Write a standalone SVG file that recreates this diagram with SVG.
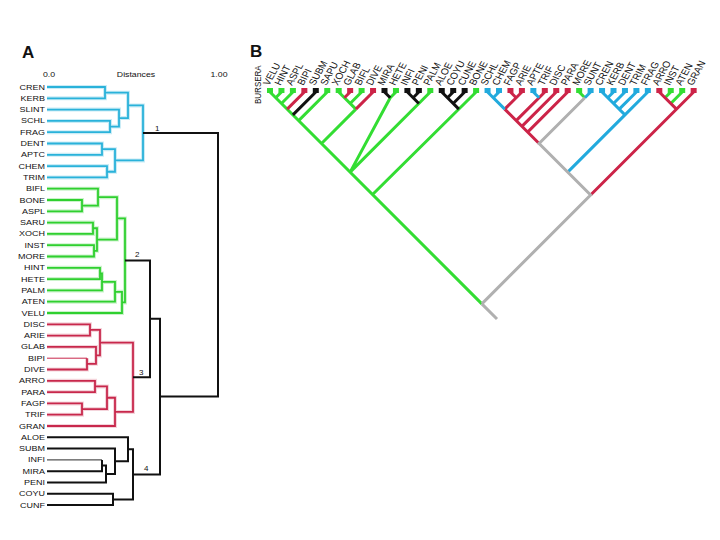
<svg xmlns="http://www.w3.org/2000/svg" xmlns:xlink="http://www.w3.org/1999/xlink" width="720" height="540" viewBox="0 0 720 540">
<style>
text{font-family:"Liberation Sans",Arial,sans-serif;fill:#111}
.la{font-size:7.2px;text-anchor:end}
.lb{font-size:9px}
.hd{font-size:7px;text-anchor:middle}
.num{font-size:8px}
.big{font-size:17px;font-weight:bold}
.p{fill:none;stroke-linejoin:miter;stroke-linecap:butt}
</style>
<defs>
<g id="aCy" stroke="#2ab2da"><path class="p" d="M47,87H105V98.3H47M47,120.9H110V132.2H47M47,109.6H119V126.55H110M105,92.65H128V118.1H119M47,143.5H102V154.8H47M47,166.1H107V177.4H47M102,149.15H115V171.75H107M128,105.4H143V160.45H115"/></g>
<g id="aGr" stroke="#2fd02f"><path class="p" d="M47,200H82V211.3H47M47,188.7H98V205.65H82M47,222.6H93V233.9H47M47,245.2H94V256.5H47M93,228.25H97V250.85H94M98,197.2H117V239.55H97M47,267.8H100V279.1H47M100,273.45H102V290.4H47M102,281.9H115V301.7H47M115,291.8H122V313H47M117,218.4H125V302.4H122"/></g>
<g id="aRd" stroke="#c8284c"><path class="p" d="M47,324.3H90V335.6H47M87,358.2V369.5H47M47,346.9H96V363.85H87M90,329.95H100V355.4H96M47,380.8H95V392.1H47M47,403.4H82V414.7H47M95,386.45H107V409.05H82M107,397.75H115V426H47M100,342.7H133V411.9H115"/></g>
</defs>
<rect width="720" height="540" fill="#fff"/>
<text class="big" x="22" y="58">A</text>
<text class="big" x="250" y="57">B</text>
<text class="hd" transform="translate(49,77) scale(1.25,1)">0.0</text>
<text class="hd" transform="translate(136,77) scale(1.25,1)">Distances</text>
<text class="hd" transform="translate(219,77) scale(1.25,1)">1.00</text>
<g id="connectors">
<g id="connA">
<use xlink:href="#aCy" stroke-width="4" opacity="0.25"/>
<use xlink:href="#aGr" stroke-width="4" opacity="0.25"/>
<use xlink:href="#aRd" stroke-width="4" opacity="0.2"/>
<use xlink:href="#aCy" stroke-width="1.8"/>
<use xlink:href="#aGr" stroke-width="1.8"/>
<use xlink:href="#aRd" stroke-width="1.8"/>
<path class="p" stroke="#c8284c" stroke-width="1" d="M47,358.2H87"/>
<path class="p" stroke="#111" stroke-width="2" d="M143,132.9H218V396.6H160M125,260.4H150V377.3H133M150,318.85H160V474.4H133M102,459.9V471.2H47M102,465.55H106V482.5H47M47,448.6H115V474H106M47,437.3H128V461.3H115M47,493.8H113V505.1H47M128,449.3H133V499.45H113"/>
<path class="p" stroke="#111" stroke-width="0.9" d="M47,459.9H102"/>
</g>
<g id="connB" stroke-width="3" stroke-linecap="round">
<path class="p" stroke="#33dd33" d="M270,92L481.83,303.83M281.45,92L275.73,97.73M292.9,92L281.45,103.45M327.25,92L298.63,120.63M338.7,92L355.88,109.18M361.6,92L350.15,103.45M355.88,109.18L321.53,143.53M395.95,92L390.23,97.73M390.23,97.73L350.15,172.15M430.3,92L350.15,172.15M476.1,92L373.05,194.05M670.75,92L665.03,97.73M682.2,92L670.75,103.45M579.15,92L584.88,97.73"/>
<path class="p" stroke="#cc2448" d="M304.35,92L287.18,109.18M350.15,92L344.43,97.73M373.05,92L355.88,109.18M693.65,92L590.6,195.05M659.3,92L676.48,109.18M510.45,92L516.18,97.73M521.9,92L516.18,97.73M516.18,97.73L504.73,109.18M544.8,92L539.08,97.73M539.08,97.73L516.18,120.63M556.25,92L521.9,126.35M567.7,92L527.63,132.08M504.73,109.18L539.08,143.53"/>
<path class="p" stroke="#111" d="M315.8,92L292.9,114.9M384.5,92L390.23,97.73M407.4,92L418.85,103.45M418.85,92L413.13,97.73M441.75,92L458.88,109.18M453.2,92L447.48,97.73M464.65,92L453.2,103.45"/>
<path class="p" stroke="#22aadd" d="M487.55,92L504.73,109.18M499,92L493.28,97.73M533.35,92L539.08,97.73M590.6,92L584.88,97.73M602.05,92L624.95,114.9M613.5,92L607.78,97.73M624.95,92L613.5,103.45M636.4,92L619.23,109.18M647.85,92L624.95,114.9M624.95,114.9L567.7,172.15"/>
<path class="p" stroke="#b0b0b0" d="M481.83,303.83L497,319M481.83,303.83L590.6,195.05L539.08,143.53L584.88,97.73"/>
</g>
</g>
<g id="clusterLabels">
<text class="num" x="155" y="131">1</text>
<text class="num" x="135" y="257">2</text>
<text class="num" x="139" y="375">3</text>
<text class="num" x="144" y="471">4</text>
</g>
<g id="leavesA" transform="translate(45,0) scale(1.25,1)">
<g id="a-CREN"><text class="la" y="89.6">CREN</text></g>
<g id="a-KERB"><text class="la" y="100.9">KERB</text></g>
<g id="a-SLINT"><text class="la" y="112.2">SLINT</text></g>
<g id="a-SCHL"><text class="la" y="123.5">SCHL</text></g>
<g id="a-FRAG"><text class="la" y="134.8">FRAG</text></g>
<g id="a-DENT"><text class="la" y="146.1">DENT</text></g>
<g id="a-APTC"><text class="la" y="157.4">APTC</text></g>
<g id="a-CHEM"><text class="la" y="168.7">CHEM</text></g>
<g id="a-TRIM"><text class="la" y="180">TRIM</text></g>
<g id="a-BIFL"><text class="la" y="191.3">BIFL</text></g>
<g id="a-BONE"><text class="la" y="202.6">BONE</text></g>
<g id="a-ASPL"><text class="la" y="213.9">ASPL</text></g>
<g id="a-SARU"><text class="la" y="225.2">SARU</text></g>
<g id="a-XOCH"><text class="la" y="236.5">XOCH</text></g>
<g id="a-INST"><text class="la" y="247.8">INST</text></g>
<g id="a-MORE"><text class="la" y="259.1">MORE</text></g>
<g id="a-HINT"><text class="la" y="270.4">HINT</text></g>
<g id="a-HETE"><text class="la" y="281.7">HETE</text></g>
<g id="a-PALM"><text class="la" y="293">PALM</text></g>
<g id="a-ATEN"><text class="la" y="304.3">ATEN</text></g>
<g id="a-VELU"><text class="la" y="315.6">VELU</text></g>
<g id="a-DISC"><text class="la" y="326.9">DISC</text></g>
<g id="a-ARIE"><text class="la" y="338.2">ARIE</text></g>
<g id="a-GLAB"><text class="la" y="349.5">GLAB</text></g>
<g id="a-BIPI"><text class="la" y="360.8">BIPI</text></g>
<g id="a-DIVE"><text class="la" y="372.1">DIVE</text></g>
<g id="a-ARRO"><text class="la" y="383.4">ARRO</text></g>
<g id="a-PARA"><text class="la" y="394.7">PARA</text></g>
<g id="a-FAGP"><text class="la" y="406">FAGP</text></g>
<g id="a-TRIF"><text class="la" y="417.3">TRIF</text></g>
<g id="a-GRAN"><text class="la" y="428.6">GRAN</text></g>
<g id="a-ALOE"><text class="la" y="439.9">ALOE</text></g>
<g id="a-SUBM"><text class="la" y="451.2">SUBM</text></g>
<g id="a-INFI"><text class="la" y="462.5">INFI</text></g>
<g id="a-MIRA"><text class="la" y="473.8">MIRA</text></g>
<g id="a-PENI"><text class="la" y="485.1">PENI</text></g>
<g id="a-COYU"><text class="la" y="496.4">COYU</text></g>
<g id="a-CUNF"><text class="la" y="507.7">CUNF</text></g>
</g>
<g id="leavesB">
<g id="b-BURSERA"><text class="lb" style="font-size:8px" transform="translate(261,104) scale(1.2,1) rotate(-90)">BURSERA</text></g>
<g id="b-VELU"><rect x="267" y="88" width="6" height="5" fill="#33dd33"/><text class="lb" transform="translate(269,86) scale(1.15,1) rotate(-64)">VELU</text></g>
<g id="b-HINT"><rect x="278.45" y="88" width="6" height="5" fill="#33dd33"/><text class="lb" transform="translate(280.45,86) scale(1.15,1) rotate(-64)">HINT</text></g>
<g id="b-ASPL"><rect x="289.9" y="88" width="6" height="5" fill="#33dd33"/><text class="lb" transform="translate(291.9,86) scale(1.15,1) rotate(-64)">ASPL</text></g>
<g id="b-BIPI"><rect x="301.35" y="88" width="6" height="5" fill="#cc2448"/><text class="lb" transform="translate(303.35,86) scale(1.15,1) rotate(-64)">BIPI</text></g>
<g id="b-SUBM"><rect x="312.8" y="88" width="6" height="5" fill="#111"/><text class="lb" transform="translate(314.8,86) scale(1.15,1) rotate(-64)">SUBM</text></g>
<g id="b-SAPU"><rect x="324.25" y="88" width="6" height="5" fill="#33dd33"/><text class="lb" transform="translate(326.25,86) scale(1.15,1) rotate(-64)">SAPU</text></g>
<g id="b-XOCH"><rect x="335.7" y="88" width="6" height="5" fill="#33dd33"/><text class="lb" transform="translate(337.7,86) scale(1.15,1) rotate(-64)">XOCH</text></g>
<g id="b-GLAB"><rect x="347.15" y="88" width="6" height="5" fill="#cc2448"/><text class="lb" transform="translate(349.15,86) scale(1.15,1) rotate(-64)">GLAB</text></g>
<g id="b-BIFL"><rect x="358.6" y="88" width="6" height="5" fill="#33dd33"/><text class="lb" transform="translate(360.6,86) scale(1.15,1) rotate(-64)">BIFL</text></g>
<g id="b-DIVE"><rect x="370.05" y="88" width="6" height="5" fill="#cc2448"/><text class="lb" transform="translate(372.05,86) scale(1.15,1) rotate(-64)">DIVE</text></g>
<g id="b-MIRA"><rect x="381.5" y="88" width="6" height="5" fill="#111"/><text class="lb" transform="translate(383.5,86) scale(1.15,1) rotate(-64)">MIRA</text></g>
<g id="b-HETE"><rect x="392.95" y="88" width="6" height="5" fill="#33dd33"/><text class="lb" transform="translate(394.95,86) scale(1.15,1) rotate(-64)">HETE</text></g>
<g id="b-INFI"><rect x="404.4" y="88" width="6" height="5" fill="#111"/><text class="lb" transform="translate(406.4,86) scale(1.15,1) rotate(-64)">INFI</text></g>
<g id="b-PENI"><rect x="415.85" y="88" width="6" height="5" fill="#111"/><text class="lb" transform="translate(417.85,86) scale(1.15,1) rotate(-64)">PENI</text></g>
<g id="b-PALM"><rect x="427.3" y="88" width="6" height="5" fill="#33dd33"/><text class="lb" transform="translate(429.3,86) scale(1.15,1) rotate(-64)">PALM</text></g>
<g id="b-ALOE"><rect x="438.75" y="88" width="6" height="5" fill="#111"/><text class="lb" transform="translate(440.75,86) scale(1.15,1) rotate(-64)">ALOE</text></g>
<g id="b-COYU"><rect x="450.2" y="88" width="6" height="5" fill="#111"/><text class="lb" transform="translate(452.2,86) scale(1.15,1) rotate(-64)">COYU</text></g>
<g id="b-CUNE"><rect x="461.65" y="88" width="6" height="5" fill="#111"/><text class="lb" transform="translate(463.65,86) scale(1.15,1) rotate(-64)">CUNE</text></g>
<g id="b-BONE"><rect x="473.1" y="88" width="6" height="5" fill="#33dd33"/><text class="lb" transform="translate(475.1,86) scale(1.15,1) rotate(-64)">BONE</text></g>
<g id="b-SCHL"><rect x="484.55" y="88" width="6" height="5" fill="#22aadd"/><text class="lb" transform="translate(486.55,86) scale(1.15,1) rotate(-64)">SCHL</text></g>
<g id="b-CHEM"><rect x="496" y="88" width="6" height="5" fill="#22aadd"/><text class="lb" transform="translate(498,86) scale(1.15,1) rotate(-64)">CHEM</text></g>
<g id="b-FAGP"><rect x="507.45" y="88" width="6" height="5" fill="#cc2448"/><text class="lb" transform="translate(509.45,86) scale(1.15,1) rotate(-64)">FAGP</text></g>
<g id="b-ARIE"><rect x="518.9" y="88" width="6" height="5" fill="#cc2448"/><text class="lb" transform="translate(520.9,86) scale(1.15,1) rotate(-64)">ARIE</text></g>
<g id="b-APTE"><rect x="530.35" y="88" width="6" height="5" fill="#22aadd"/><text class="lb" transform="translate(532.35,86) scale(1.15,1) rotate(-64)">APTE</text></g>
<g id="b-TRIF"><rect x="541.8" y="88" width="6" height="5" fill="#cc2448"/><text class="lb" transform="translate(543.8,86) scale(1.15,1) rotate(-64)">TRIF</text></g>
<g id="b-DISC"><rect x="553.25" y="88" width="6" height="5" fill="#cc2448"/><text class="lb" transform="translate(555.25,86) scale(1.15,1) rotate(-64)">DISC</text></g>
<g id="b-PARA"><rect x="564.7" y="88" width="6" height="5" fill="#cc2448"/><text class="lb" transform="translate(566.7,86) scale(1.15,1) rotate(-64)">PARA</text></g>
<g id="b-MORE"><rect x="576.15" y="88" width="6" height="5" fill="#33dd33"/><text class="lb" transform="translate(578.15,86) scale(1.15,1) rotate(-64)">MORE</text></g>
<g id="b-SUNT"><rect x="587.6" y="88" width="6" height="5" fill="#22aadd"/><text class="lb" transform="translate(589.6,86) scale(1.15,1) rotate(-64)">SUNT</text></g>
<g id="b-CREN"><rect x="599.05" y="88" width="6" height="5" fill="#22aadd"/><text class="lb" transform="translate(601.05,86) scale(1.15,1) rotate(-64)">CREN</text></g>
<g id="b-KERB"><rect x="610.5" y="88" width="6" height="5" fill="#22aadd"/><text class="lb" transform="translate(612.5,86) scale(1.15,1) rotate(-64)">KERB</text></g>
<g id="b-DENT"><rect x="621.95" y="88" width="6" height="5" fill="#22aadd"/><text class="lb" transform="translate(623.95,86) scale(1.15,1) rotate(-64)">DENT</text></g>
<g id="b-TRIM"><rect x="633.4" y="88" width="6" height="5" fill="#22aadd"/><text class="lb" transform="translate(635.4,86) scale(1.15,1) rotate(-64)">TRIM</text></g>
<g id="b-FRAG"><rect x="644.85" y="88" width="6" height="5" fill="#22aadd"/><text class="lb" transform="translate(646.85,86) scale(1.15,1) rotate(-64)">FRAG</text></g>
<g id="b-ARRO"><rect x="656.3" y="88" width="6" height="5" fill="#cc2448"/><text class="lb" transform="translate(658.3,86) scale(1.15,1) rotate(-64)">ARRO</text></g>
<g id="b-INST"><rect x="667.75" y="88" width="6" height="5" fill="#33dd33"/><text class="lb" transform="translate(669.75,86) scale(1.15,1) rotate(-64)">INST</text></g>
<g id="b-ATEN"><rect x="679.2" y="88" width="6" height="5" fill="#33dd33"/><text class="lb" transform="translate(681.2,86) scale(1.15,1) rotate(-64)">ATEN</text></g>
<g id="b-GRAN"><rect x="690.65" y="88" width="6" height="5" fill="#cc2448"/><text class="lb" transform="translate(692.65,86) scale(1.15,1) rotate(-64)">GRAN</text></g>
</g>
</svg>
